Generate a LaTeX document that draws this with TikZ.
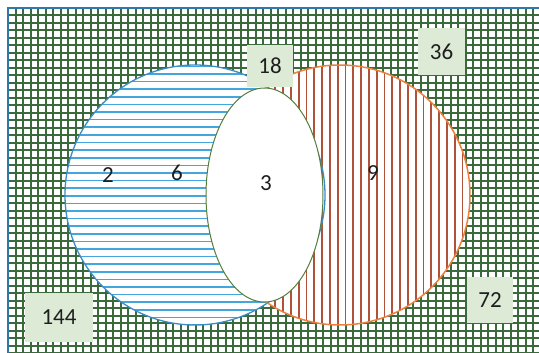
\documentclass[tikz,border=0pt]{standalone}
\usepackage{fontspec}
\setmainfont{Carlito}
\definecolor{gridgreen}{HTML}{3A6A3C}
\definecolor{frameblue}{HTML}{2F78A8}
\definecolor{hatchblue}{HTML}{45A6DE}
\definecolor{edgeblue}{HTML}{3A8CC6}
\definecolor{hatchred}{HTML}{B0513A}
\definecolor{edgeorange}{HTML}{EE7F3C}
\definecolor{ellgreen}{HTML}{557F3F}
\definecolor{boxgreen}{HTML}{DCEAD6}
\definecolor{txt}{HTML}{1E1E1E}
\begin{document}
\begin{tikzpicture}[x=1pt,y=-1pt,
  gridline/.style={draw=gridgreen,line width=2pt},
  frameline/.style={draw=frameblue,line width=2pt},
  blueline/.style={draw=hatchblue,line width=1.6pt},
  redline/.style={draw=hatchred,line width=1.7pt},
  blueedge/.style={draw=edgeblue,line width=1.3pt},
  orangeedge/.style={draw=edgeorange,line width=1.5pt},
  elledge/.style={draw=ellgreen,line width=1pt,fill=white},
  lbl/.style={fill=boxgreen,inner sep=0pt,text=txt,font=\fontsize{23}{27}\selectfont},
  num/.style={inner sep=0pt,text=txt,font=\fontsize{23}{27}\selectfont}]
\useasboundingbox (0,0) rectangle (539,353);
\clip (0,0) rectangle (539,353);
\fill[white] (0,0) rectangle (539,353);
% background grid
\begin{scope}
  \clip (8,8) rectangle (560,370);
  \foreach \i in {0,...,72} \draw[gridline] (8+\i*7.5,8) -- (8+\i*7.5,370);
  \foreach \i in {0,...,48} \draw[gridline] (8,8+\i*7.5) -- (560,8+\i*7.5);
\end{scope}
\draw[frameline] (8,8) rectangle (560,370);
% circle centres
\coordinate (cblue) at (195,195);
\coordinate (cred) at (340,195);
% blue circle with horizontal hatching
\begin{scope}
  \clip (cblue) circle[radius=130pt];
  \fill[white] (cblue) circle[radius=130pt];
  \foreach \k in {0,...,40} \draw[blueline] (60,43.7+\k*7.6) -- (330,43.7+\k*7.6);
\end{scope}
% red circle with vertical hatching
\begin{scope}
  \clip (cred) circle[radius=130pt];
  \fill[white] (cred) circle[radius=130pt];
  \foreach \k in {0,...,45} \draw[redline] (158.3+\k*7.8,60) -- (158.3+\k*7.8,330);
\end{scope}
\draw[blueedge] (cblue) circle[radius=130pt];
\draw[orangeedge] (cred) circle[radius=130pt];
% labels
\node[lbl,minimum width=46pt,minimum height=42pt] (n18) at (270,66) {18};
% central ellipse
\coordinate (cell) at (264.5,195);
\draw[elledge] (cell) ellipse[x radius=58.5pt,y radius=107pt];
\node[lbl,minimum width=47pt,minimum height=47pt] (n36) at (441.5,51.5) {36};
\node[lbl,minimum width=46pt,minimum height=46pt] (n72) at (490,300) {72};
\node[lbl,minimum width=68pt,minimum height=49pt] (n144) at (59,317.5) {144};
\node[num] (n2) at (108,175) {2};
\node[num] (n6) at (177,173) {6};
\node[num] (n3) at (266,183) {3};
\node[num] (n9) at (373,173) {9};
\end{tikzpicture}
\end{document}
